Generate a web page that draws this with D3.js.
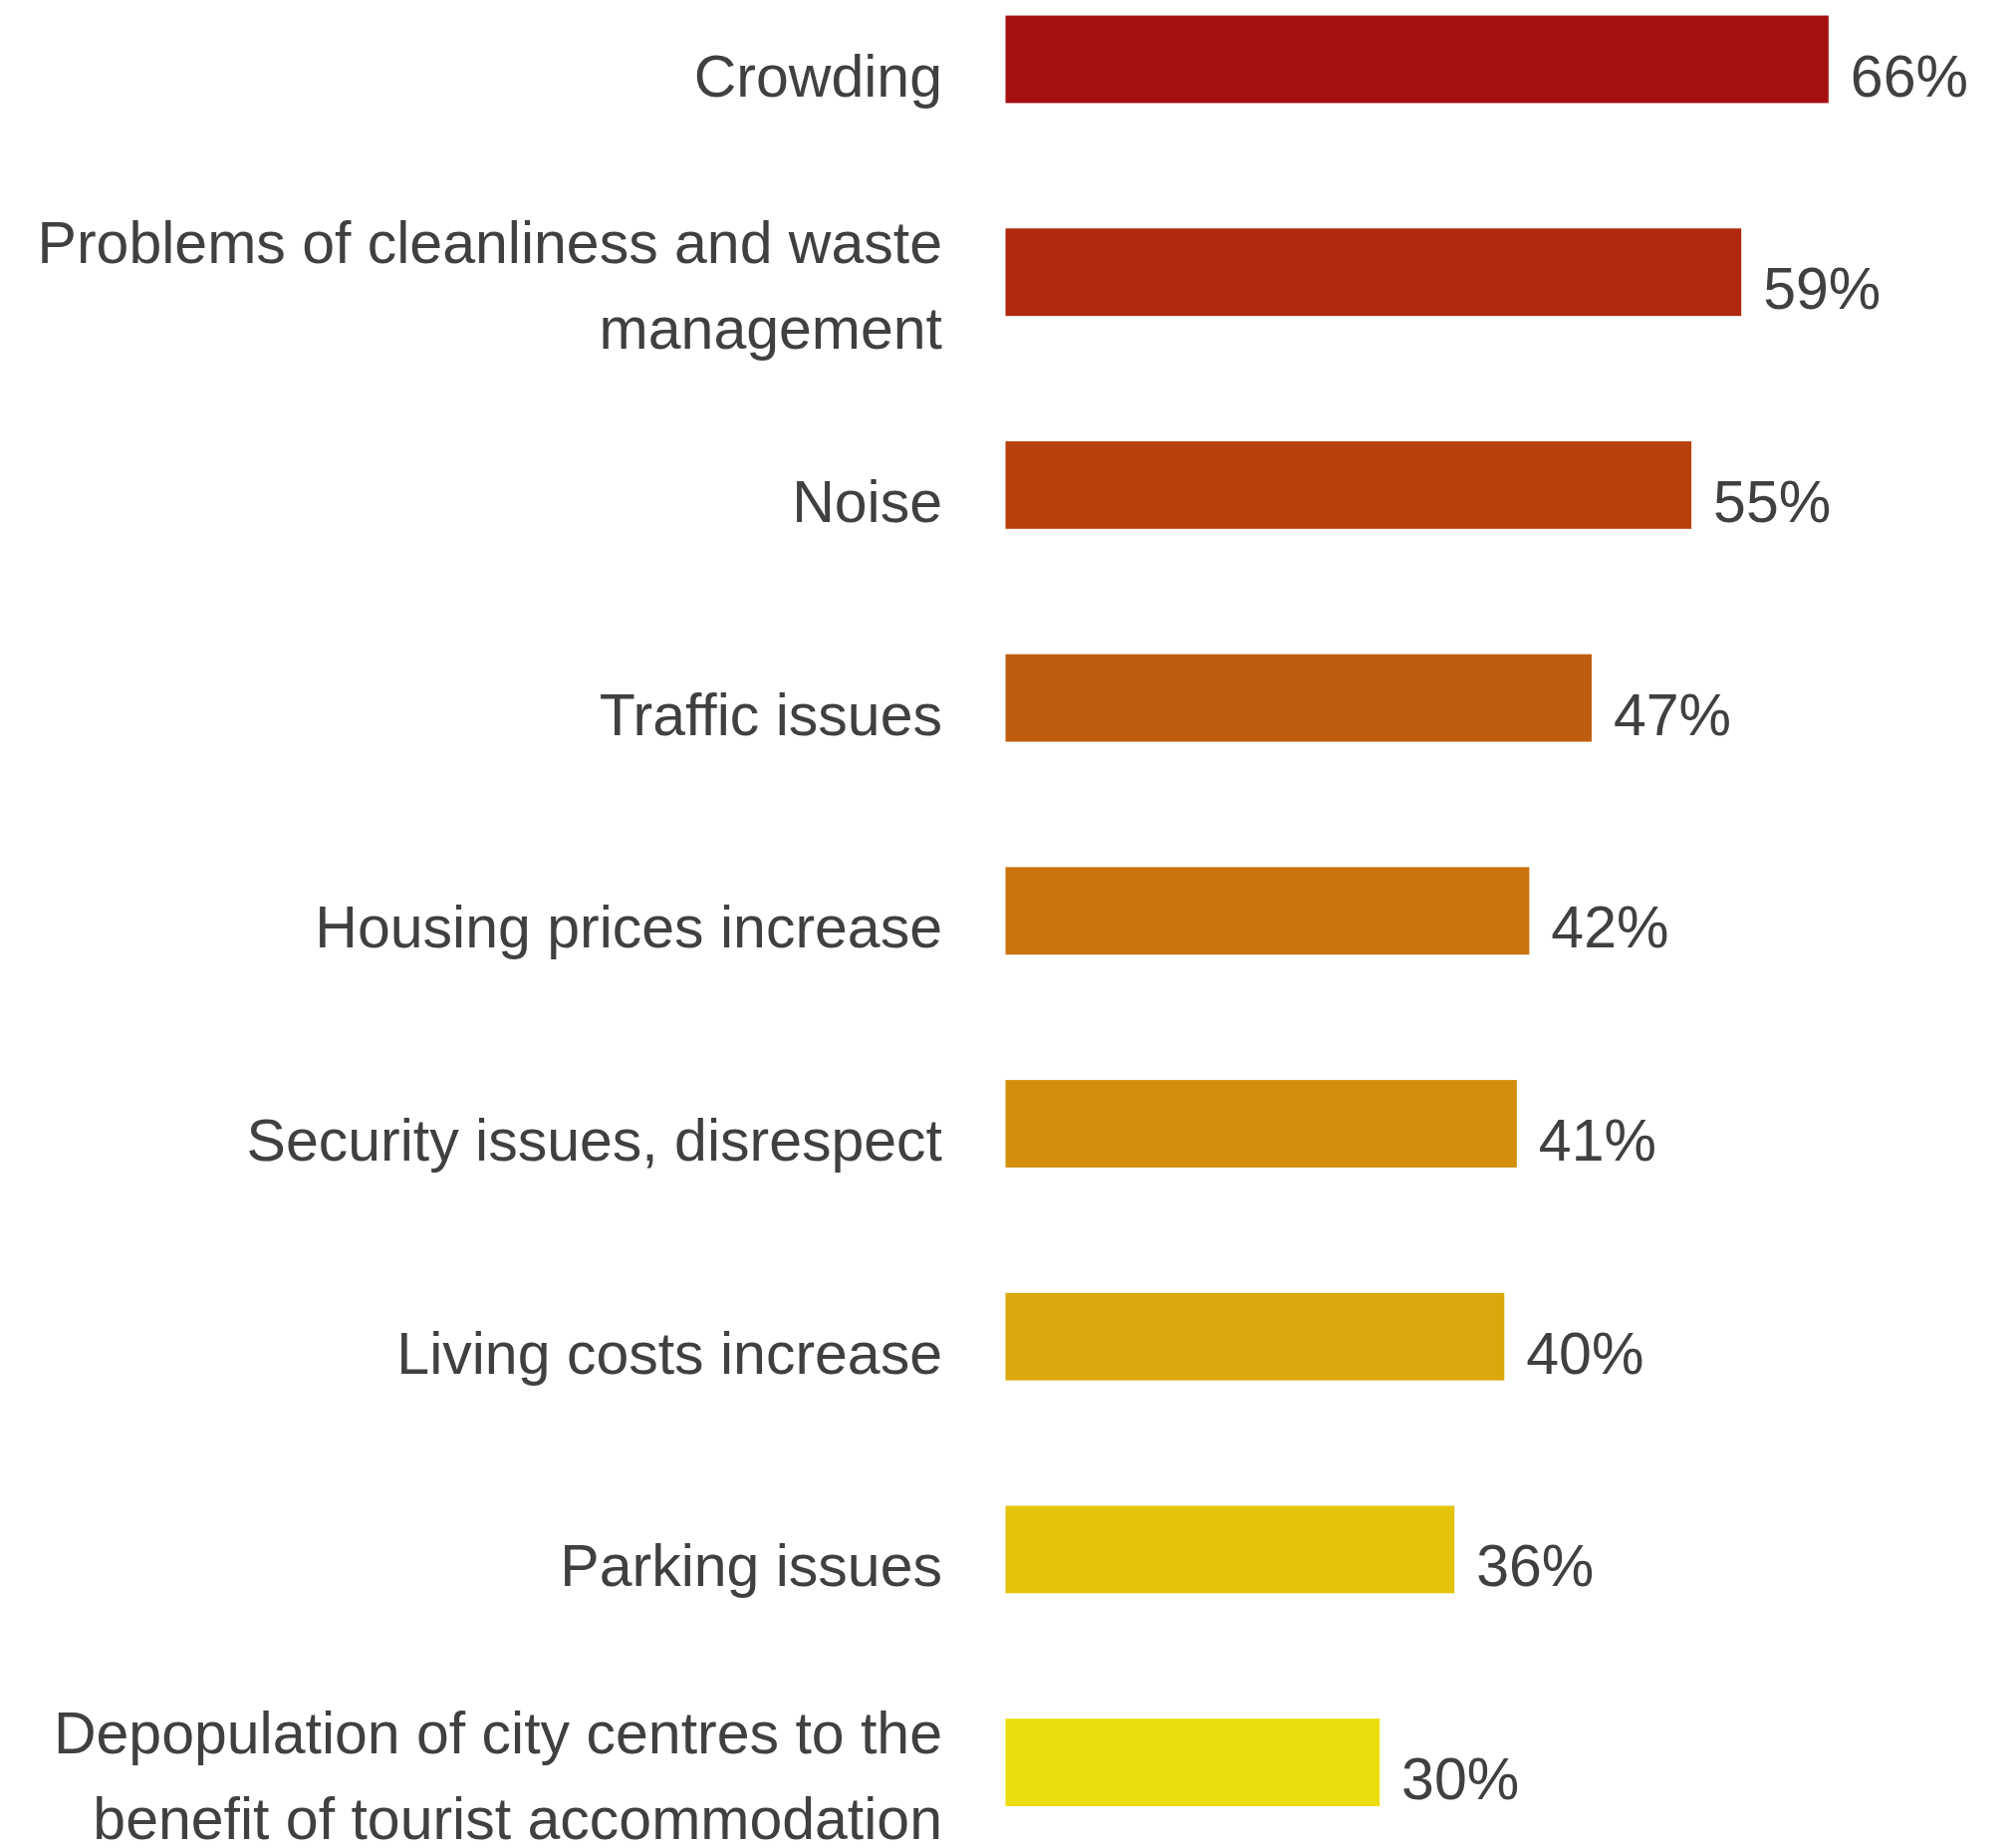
<!DOCTYPE html>
<html>
<head>
<meta charset="utf-8">
<script src="https://cdn.jsdelivr.net/npm/d3@7"></script>
<style>
  html, body { margin: 0; padding: 0; background: #ffffff; }
  svg { display: block; }
</style>
</head>
<body>
<div id="chart"></div>
<script>
// Perceived negative effects of tourism (share of respondents)
const categories = [
  "Crowding",
  "Problems of cleanliness and waste management",
  "Noise",
  "Traffic issues",
  "Housing prices increase",
  "Security issues, disrespect",
  "Living costs increase",
  "Parking issues",
  "Depopulation of city centres to the benefit of tourist accommodation"
];
const labelLines = [
  ["Crowding"],
  ["Problems of cleanliness and waste", "management"],
  ["Noise"],
  ["Traffic issues"],
  ["Housing prices increase"],
  ["Security issues, disrespect"],
  ["Living costs increase"],
  ["Parking issues"],
  ["Depopulation of city centres to the", "benefit of tourist accommodation"]
];
const values = [66, 59, 55, 47, 42, 41, 40, 36, 30];
const colors = [
  "#a60f0f", "#b0280d", "#b8400d", "#c05c0e", "#ca730e",
  "#d38f0c", "#dba70c", "#e3c30c", "#ebde0c"
];

const W = 2024, H = 1853;
const svg = d3.select("#chart").append("svg")
  .attr("width", W).attr("height", H);

const x = d3.scaleLinear().domain([0, 100]).range([1009.5, 2261.5]);

const step = 213.7, inner = 0.589;
const y0 = 15.6 - step * inner / 2;
const y = d3.scaleBand()
  .domain(categories)
  .range([y0, y0 + step * categories.length])
  .paddingInner(inner)
  .paddingOuter(inner / 2);

const rows = categories.map((c, i) => ({
  cat: c, value: values[i], color: colors[i], lines: labelLines[i]
}));

const fontFamily = "'Liberation Sans', Arial, Helvetica, sans-serif";
const fontSize = 59;
const textColor = "#404040";

const g = svg.append("g");

g.selectAll("rect.bar")
  .data(rows)
  .join("rect")
  .attr("class", "bar")
  .attr("x", x(0))
  .attr("y", d => y(d.cat))
  .attr("width", d => x(d.value) - x(0))
  .attr("height", y.bandwidth())
  .attr("fill", d => d.color);

// value labels to the right of each bar
g.selectAll("text.value")
  .data(rows)
  .join("text")
  .attr("class", "value")
  .attr("x", d => x(d.value) + 22)
  .attr("y", d => y(d.cat) + y.bandwidth() / 2 + 37)
  .attr("font-family", fontFamily)
  .attr("font-size", fontSize)
  .attr("fill", textColor)
  .text(d => d.value + "%");

// category labels, right aligned
const labels = g.selectAll("text.cat")
  .data(rows)
  .join("text")
  .attr("class", "cat")
  .attr("text-anchor", "end")
  .attr("font-family", fontFamily)
  .attr("font-size", fontSize)
  .attr("fill", textColor);

labels.each(function(d) {
  const cy = y(d.cat) + y.bandwidth() / 2;
  const t = d3.select(this);
  if (d.lines.length === 1) {
    t.append("tspan").attr("x", 946).attr("y", cy + 37).text(d.lines[0]);
  } else {
    d.lines.forEach((ln, k) => {
      t.append("tspan").attr("x", 946).attr("y", cy - 9 + k * 86).text(ln);
    });
  }
});
</script>
</body>
</html>
